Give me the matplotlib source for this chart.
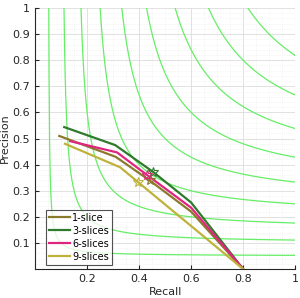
import matplotlib
matplotlib.use('Agg')
import matplotlib.pyplot as plt
import numpy as np
from matplotlib.ticker import MultipleLocator

# iso-F1 levels
f_levels = [0.1, 0.2, 0.3, 0.4, 0.5, 0.6, 0.7, 0.8, 0.9]

labels = ['1-slice', '3-slices', '6-slices', '9-slices']
colors = ['#8a7a2c', '#2f7a2c', '#e0257f', '#bfb23a']

rec_1 = [0.093, 0.31, 0.44, 0.60, 0.80]
prec_1 = [0.51, 0.43, 0.34, 0.22, 0.0]
rec_3 = [0.112, 0.308, 0.454, 0.60, 0.80]
prec_3 = [0.544, 0.475, 0.372, 0.255, 0.0]
rec_6 = [0.135, 0.315, 0.431, 0.60, 0.80]
prec_6 = [0.49, 0.447, 0.36, 0.235, 0.0]
rec_9 = [0.115, 0.327, 0.396, 0.60, 0.80]
prec_9 = [0.48, 0.39, 0.333, 0.165, 0.0]

# best-F point on each curve (asterisk)
best_r = [0.442, 0.454, 0.431, 0.396]
best_p = [0.34, 0.372, 0.36, 0.333]

recs = [rec_1, rec_3, rec_6, rec_9]
precs = [prec_1, prec_3, prec_6, prec_9]

fig = plt.figure(figsize=(3.0, 2.98), dpi=100)
ax = fig.add_axes([0.117, 0.097, 0.867, 0.876])

for f in f_levels:
    # sample along the curve in both directions so the steep part is smooth
    p_top = np.linspace(1.0, 0.75, 200)
    r_top = f * p_top / (2 * p_top - f)
    r_low = np.linspace(r_top[-1], 1, 400)[1:]
    p_low = f * r_low / (2 * r_low - f)
    r = np.concatenate([r_top, r_low])
    p = np.concatenate([p_top, p_low])
    ax.plot(r, p, color='#66ee66', lw=0.9, zorder=1)

for r, p, c, lab, br, bp in zip(recs, precs, colors, labels, best_r, best_p):
    ax.plot(r, p, color=c, lw=1.6, label=lab, zorder=3)
    ax.plot([br], [bp], marker='*', color=c, ms=7, mew=0.8, fillstyle='none', zorder=4, linestyle='none')

ax.set_xlim(0, 1)
ax.set_ylim(0, 1)
ax.set_xticks([0.2, 0.4, 0.6, 0.8, 1])
ax.set_xticklabels(['0.2', '0.4', '0.6', '0.8', '1'])
ax.set_yticks([0.1, 0.2, 0.3, 0.4, 0.5, 0.6, 0.7, 0.8, 0.9, 1])
ax.set_yticklabels(['0.1', '0.2', '0.3', '0.4', '0.5', '0.6', '0.7', '0.8', '0.9', '1'])
ax.xaxis.set_minor_locator(MultipleLocator(0.05))
ax.yaxis.set_minor_locator(MultipleLocator(0.02))
ax.grid(True, which='major', color='#dcdcdc', lw=0.6)
ax.grid(True, which='minor', color='#ececec', lw=0.5, linestyle=':')
ax.set_axisbelow(True)
ax.tick_params(which='both', direction='in', labelsize=8, colors='#262626', length=3)
ax.tick_params(which='minor', length=0)
ax.tick_params(top=False, right=False)
for s in ['top', 'right']:
    ax.spines[s].set_visible(False)
for s in ['left', 'bottom']:
    ax.spines[s].set_color('#262626')
    ax.spines[s].set_linewidth(0.8)

ax.set_xlabel('Recall', fontsize=8, color='#262626', labelpad=2)
ax.set_ylabel('Precision', fontsize=8, color='#262626', labelpad=2)

leg = ax.legend(loc='lower left', bbox_to_anchor=(0.035, 0.01), fontsize=7, frameon=True,
                fancybox=False, edgecolor='#262626', handlelength=2.2, handletextpad=0.2,
                labelspacing=0.3, borderpad=0.3, borderaxespad=0.2)
leg.get_frame().set_linewidth(0.8)

fig.savefig('out.png', dpi=100)
